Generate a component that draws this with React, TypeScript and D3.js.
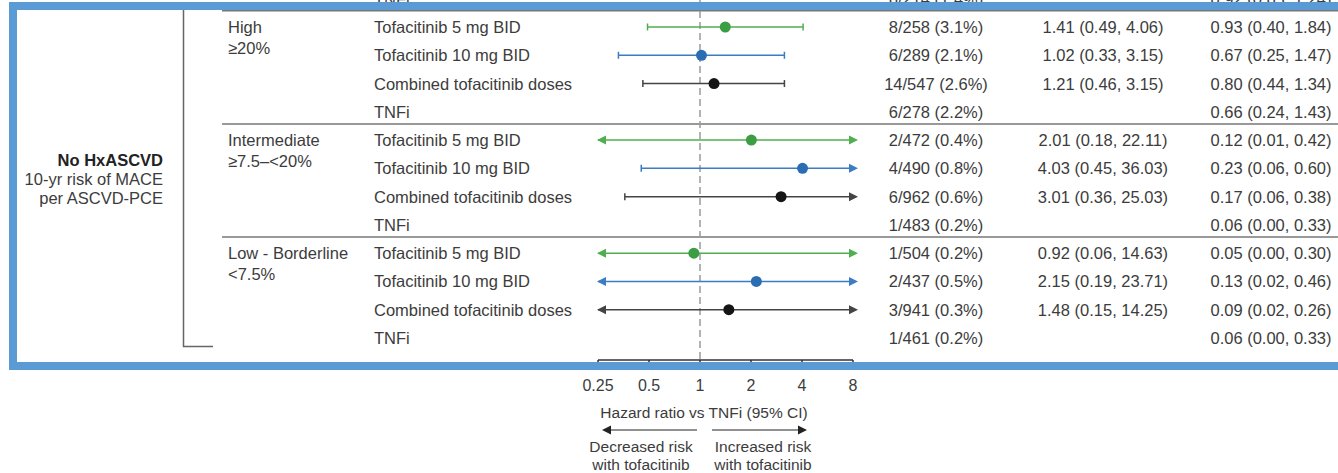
import React from 'react'
import * as d3 from 'd3'

// rows: 3 risk groups x 4 treatments (plus the clipped TNFi row from the group above)
const groupNames = ['High', 'Intermediate', 'Low - Borderline']
const groupRanges = ['≥20%', '≥7.5–<20%', '<7.5%']
const treatments = ['Tofacitinib 5 mg BID', 'Tofacitinib 10 mg BID', 'Combined tofacitinib doses', 'TNFi']

const events = [
  '8/258 (3.1%)', '6/289 (2.1%)', '14/547 (2.6%)', '6/278 (2.2%)',
  '2/472 (0.4%)', '4/490 (0.8%)', '6/962 (0.6%)', '1/483 (0.2%)',
  '1/504 (0.2%)', '2/437 (0.5%)', '3/941 (0.3%)', '1/461 (0.2%)',
]
const hr = [1.41, 1.02, 1.21, null, 2.01, 4.03, 3.01, null, 0.92, 2.15, 1.48, null]
const lo = [0.49, 0.33, 0.46, null, 0.18, 0.45, 0.36, null, 0.06, 0.19, 0.15, null]
const hi = [4.06, 3.15, 3.15, null, 22.11, 36.03, 25.03, null, 14.63, 23.71, 14.25, null]
const rates = [
  '0.93 (0.40, 1.84)', '0.67 (0.25, 1.47)', '0.80 (0.44, 1.34)', '0.66 (0.24, 1.43)',
  '0.12 (0.01, 0.42)', '0.23 (0.06, 0.60)', '0.17 (0.06, 0.38)', '0.06 (0.00, 0.33)',
  '0.05 (0.00, 0.30)', '0.13 (0.02, 0.46)', '0.09 (0.02, 0.26)', '0.06 (0.00, 0.33)',
]
const ticks = [0.25, 0.5, 1, 2, 4, 8]

const lineColor = ['#4fae4f', '#3b7cc4', '#444', '#444']
const dotColor = ['#3c9e43', '#2a6db3', '#151515', '#151515']
const textColor = '#3c3c3c'
const font = '"Liberation Sans", Arial, sans-serif'

export default function App() {
  const W = 1338, H = 473
  const x = d3.scaleLog().base(2).domain([0.25, 8]).range([598, 853])
  const y = d3.scaleLinear().domain([0, 11]).range([27, 338])
  const axisY = 360

  const tri = (tip: number, cy: number, dir: number, c: string, key: string) => {
    const p = d3.path()
    p.moveTo(tip, cy)
    p.lineTo(tip - dir * 9, cy - 4.5)
    p.lineTo(tip - dir * 9, cy + 4.5)
    p.closePath()
    return <path key={key} d={p.toString()} fill={c} />
  }

  return (
    <svg width={W} height={H} style={{ position: 'absolute', left: 0, top: 0, background: '#fff' }}
      fontFamily={font} fontSize={16.5} fill={textColor}>
      {/* clipped row from the group above */}
      <g dominantBaseline="central">
        <text x={374} y={y(-1)}>TNFi</text>
        <text x={936} y={y(-1)} textAnchor="middle">6/214 (1.4%)</text>
        <text x={1271} y={y(-1)} textAnchor="middle">0.92 (0.65, 1.24)</text>
      </g>

      {/* group separators */}
      {[0, 4, 8].map(i => (
        <line key={i} x1={222} x2={W} y1={y(i - 0.5) - 2} y2={y(i - 0.5) - 2} stroke="#777" strokeWidth={1.5} />
      ))}

      {/* bracket */}
      <path d={`M183.5,10V346.5H213`} fill="none" stroke="#666" strokeWidth={1.5} />

      {/* left label */}
      <g textAnchor="end">
        <text x={163} y={166} fontWeight="bold" fill="#222">No HxASCVD</text>
        <text x={163} y={185}>10-yr risk of MACE</text>
        <text x={163} y={204}>per ASCVD-PCE</text>
      </g>

      {/* group labels */}
      {groupNames.map((g, gi) => (
        <g key={g}>
          <text x={228} y={y(gi * 4)} dominantBaseline="central">{g}</text>
          <text x={228} y={y(gi * 4) + 21} dominantBaseline="central">{groupRanges[gi]}</text>
        </g>
      ))}

      {/* reference line at HR = 1 */}
      <line x1={x(1)} x2={x(1)} y1={0} y2={axisY} stroke="#9a9a9a" strokeWidth={1.5} strokeDasharray="7,4" />

      {/* rows */}
      {events.map((e, i) => {
        const t = i % 4
        const cy = y(i)
        const h = hr[i], l = lo[i], u = hi[i]
        const c = lineColor[t]
        const parts: React.ReactNode[] = []
        if (h != null && l != null && u != null) {
          const [d0, d1] = x.domain()
          const x0 = x(Math.max(l, d0)), x1 = x(Math.min(u, d1))
          parts.push(<line key="ci" x1={x0} x2={x1} y1={cy} y2={cy} stroke={c} strokeWidth={1.5} />)
          if (l < d0) parts.push(tri(x0 - 1, cy, -1, c, 'la'))
          else parts.push(<line key="lc" x1={x0} x2={x0} y1={cy - 3.5} y2={cy + 3.5} stroke={c} strokeWidth={1.5} />)
          if (u > d1) parts.push(tri(x1 + 5, cy, 1, c, 'ra'))
          else parts.push(<line key="rc" x1={x1} x2={x1} y1={cy - 3.5} y2={cy + 3.5} stroke={c} strokeWidth={1.5} />)
          parts.push(<circle key="pt" cx={x(h)} cy={cy} r={5.5} fill={dotColor[t]} />)
        }
        return (
          <g key={i}>
            <text x={374} y={cy} dominantBaseline="central">{treatments[t]}</text>
            {parts}
            <text x={936} y={cy} dominantBaseline="central" textAnchor="middle">{e}</text>
            {h != null && (
              <text x={1103} y={cy} dominantBaseline="central" textAnchor="middle">
                {`${h.toFixed(2)} (${lo[i]!.toFixed(2)}, ${hi[i]!.toFixed(2)})`}
              </text>
            )}
            <text x={1271} y={cy} dominantBaseline="central" textAnchor="middle">{rates[i]}</text>
          </g>
        )
      })}

      {/* x axis */}
      <line x1={x(0.25)} x2={x(8)} y1={axisY} y2={axisY} stroke="#333" strokeWidth={1.5} />
      {ticks.map(t => (
        <g key={t}>
          <line x1={x(t)} x2={x(t)} y1={axisY} y2={axisY + 6} stroke="#333" strokeWidth={1.5} />
          <text x={x(t)} y={385} dominantBaseline="central" textAnchor="middle" fontSize={16}>{t}</text>
        </g>
      ))}
      <text x={704} y={412} dominantBaseline="central" textAnchor="middle" fontSize={15.5}>Hazard ratio vs TNFi (95% CI)</text>

      {/* direction arrows */}
      <line x1={697} x2={608} y1={430} y2={430} stroke="#222" strokeWidth={1.2} />
      {tri(602, 430, -1, '#222', 'a1')}
      <line x1={712} x2={801} y1={430} y2={430} stroke="#222" strokeWidth={1.2} />
      {tri(807, 430, 1, '#222', 'a2')}
      <g textAnchor="middle" fontSize={15.5} dominantBaseline="central">
        <text x={641} y={446}>Decreased risk</text>
        <text x={641} y={464}>with tofacitinib</text>
        <text x={763} y={446}>Increased risk</text>
        <text x={763} y={464}>with tofacitinib</text>
      </g>

      {/* highlight frame */}
      <rect x={13} y={6} width={W + 20} height={360} fill="none" stroke="#5b9bd5" strokeWidth={8} />
    </svg>
  )
}
